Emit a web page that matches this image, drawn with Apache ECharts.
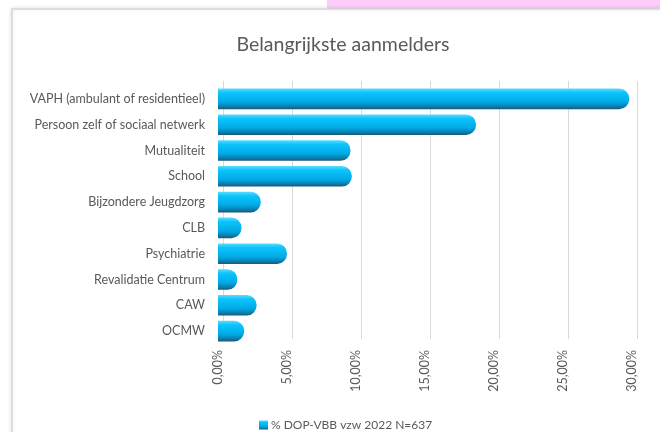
<!DOCTYPE html>
<html>
<head>
<meta charset="utf-8">
<script src="https://cdn.jsdelivr.net/npm/echarts@6/dist/echarts.min.js"></script>
<style>
  html, body { margin: 0; padding: 0; background: #fff; }
  #chart { width: 660px; height: 432px; }
</style>
</head>
<body>
<div id="chart"></div>
<script>
  // categories top -> bottom
  var categories = [
    'VAPH (ambulant of residentieel)',
    'Persoon zelf of sociaal netwerk',
    'Mutualiteit',
    'School',
    'Bijzondere Jeugdzorg',
    'CLB',
    'Psychiatrie',
    'Revalidatie Centrum',
    'CAW',
    'OCMW'
  ]
  var values = [29.8, 18.7, 9.6, 9.7, 3.1, 1.7, 5.0, 1.4, 2.8, 1.9]
  var seriesName = '% DOP-VBB vzw 2022 N=637'

  var font = 'Lato, "Open Sans", sans-serif'
  var grey = '#595959'

  var barColor = new echarts.graphic.LinearGradient(0, 0, 0, 1, [
    { offset: 0, color: '#5ddcff' },
    { offset: 0.2, color: '#0cc4fb' },
    { offset: 0.65, color: '#00aae6' },
    { offset: 0.88, color: '#0a7cab' },
    { offset: 1, color: '#1c5773' }
  ])

  var chart = echarts.init(document.getElementById('chart'))
  chart.setOption({
    backgroundColor: '#fff',
    textStyle: { fontFamily: font },
    graphic: [
      { type: 'rect', z: -10, shape: { x: 327, y: 0, width: 333, height: 10 }, style: { fill: '#fdccfb' } },
      { type: 'rect', z: -9, shape: { x: 12, y: 9, width: 660, height: 440 },
        style: { fill: '#fff', stroke: '#d6d6d6', lineWidth: 1.5, shadowBlur: 4, shadowColor: 'rgba(0,0,0,0.12)' } }
    ],
    title: {
      text: 'Belangrijkste aanmelders',
      left: 338, top: 30, textAlign: 'center',
      textStyle: { fontFamily: font, fontSize: 19.5, fontWeight: 'normal', color: grey }
    },
    legend: {
      data: [seriesName],
      left: 254, top: 414,
      itemWidth: 9, itemHeight: 9, itemGap: 3,
      icon: 'rect',
      textStyle: { fontFamily: font, fontSize: 12, color: grey, padding: [0, 0, 0, -2] }
    },
    grid: [
      { left: 218, right: 28, top: 86, bottom: 88 },
      // back wall of the 3D plot, shifted up and right
      { left: 223, right: 23, top: 81, bottom: 93 }
    ],
    xAxis: [{
      type: 'value',
      min: 0, max: 30, interval: 5,
      axisLine: { show: false },
      axisTick: { show: false },
      splitLine: { show: false },
      axisLabel: {
        rotate: 90, margin: 6, color: grey, fontFamily: font, fontSize: 12.5,
        formatter: function (v) { return v.toFixed(2).replace('.', ',') + '%' }
      }
    }, {
      type: 'value', gridIndex: 1,
      min: 0, max: 30, interval: 5,
      axisLine: { show: false },
      axisTick: { show: false },
      axisLabel: { show: false },
      splitLine: { show: true, lineStyle: { color: '#d9d9d9' } }
    }],
    yAxis: [{
      type: 'category',
      inverse: true,
      data: categories,
      axisLine: { show: false },
      axisTick: { show: false },
      axisLabel: { color: grey, fontFamily: font, fontSize: 12.5, margin: 13 }
    }, {
      type: 'category', gridIndex: 1,
      data: categories,
      show: false
    }],
    series: [{
      name: seriesName,
      type: 'bar',
      data: values,
      barCategoryGap: '20%',
      itemStyle: {
        color: barColor,
        borderRadius: [0, 10, 10, 0]
      }
    }]
  })
</script>
</body>
</html>
